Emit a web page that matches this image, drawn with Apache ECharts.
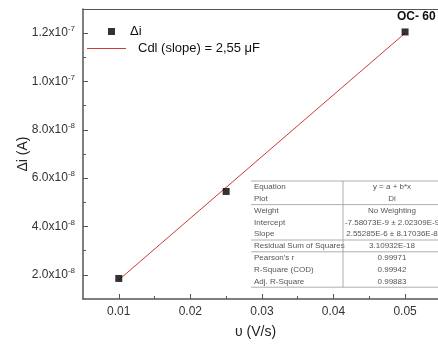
<!DOCTYPE html>
<html>
<head>
<meta charset="utf-8">
<script src="https://cdn.jsdelivr.net/npm/echarts@6/dist/echarts.min.js"></script>
<style>html,body{margin:0;padding:0;background:#fff}#c{width:438px;height:347px}</style>
</head>
<body>
<div id="c"></div>
<script>
// ---- data ----
const scanRates = [0.01, 0.025, 0.05];
const deltaI = [1.85e-8, 5.45e-8, 1.205e-7];
const fitX = [0.01, 0.05];
const fitY = [1.79e-8, 1.2e-7];
const xTickValues = [0.01, 0.02, 0.03, 0.04, 0.05];
const xMinorValues = [0.015, 0.025, 0.035, 0.045];
const yTickValues = [2e-8, 4e-8, 6e-8, 8e-8, 1e-7, 1.2e-7];
const yTickMantissa = ['2.0', '4.0', '6.0', '8.0', '1.0', '1.2'];
const yTickExponent = ['-8', '-8', '-8', '-8', '-7', '-7'];
const yMinorValues = [3e-8, 5e-8, 7e-8, 9e-8, 1.1e-7];
const tableLabels = ['Equation', 'Plot', 'Weight', 'Intercept', 'Slope', 'Residual Sum of Squares', "Pearson's r", 'R-Square (COD)', 'Adj. R-Square'];
const tableValues = ['y = a + b*x', 'Di', 'No Weighting', '-7.58073E-9 \u00b1 2.02309E-9', '2.55285E-6 \u00b1 8.17036E-8', '3.10932E-18', '0.99971', '0.99942', '0.99883'];
const seriesNames = ['\u0394i', 'Cdl (slope) = 2,55 \u03bcF'];
const annotation = 'OC- 60';

// ---- chart ----
const chart = echarts.init(document.getElementById('c'), null, {renderer: 'canvas'});
const axisColor = '#555';
const font = 'Liberation Sans, Arial, sans-serif';
const X_MIN = 0.005, X_MAX = 0.0546, Y_MIN = 1e-8, Y_MAX = 1.3e-7;

function yLabel(v) {
  for (let i = 0; i < yTickValues.length; i++) {
    if (Math.abs(yTickValues[i] - v) < 1e-12) return yTickMantissa[i] + 'x10{sup|' + yTickExponent[i] + '}';
  }
  return '';
}

// table graphic
const rowH = 11.8, tX = 251, tY = 181, colX = 343, tR = 445;
const g = [];
tableLabels.forEach((lab, i) => {
  const y = tY + i * rowH + rowH / 2;
  g.push({type: 'text', x: tX + 3, y: y, style: {text: lab, fontSize: 8, fill: '#555', fontFamily: font, verticalAlign: 'middle'}, z: 20});
  g.push({type: 'text', x: (colX + 441) / 2, y: y, style: {text: tableValues[i], fontSize: 8, fill: '#555', fontFamily: font, align: 'center', verticalAlign: 'middle'}, z: 20});
});
g.push({type: 'rect', shape: {x: tX, y: tY, width: tR - tX, height: rowH * tableLabels.length}, style: {fill: '#fff', stroke: null}, z: 10});
[0, 2, 5, 6, 9].forEach(k => {
  g.push({type: 'line', shape: {x1: tX, y1: tY + k * rowH, x2: tR, y2: tY + k * rowH}, style: {stroke: '#999', lineWidth: 0.8}, z: 21});
});
g.push({type: 'line', shape: {x1: colX, y1: tY, x2: colX, y2: tY + rowH * tableLabels.length}, style: {stroke: '#999', lineWidth: 0.8}, z: 21});

const option = {
  backgroundColor: '#fff',
  animation: false,
  textStyle: {fontFamily: font},
  title: {text: annotation, left: 397, top: 11, padding: 0, textStyle: {fontSize: 12, fontWeight: 'bold', color: '#111', fontFamily: font}},
  grid: {left: 83, top: 9, right: 0, bottom: 48, show: false},
  legend: [
    {data: [{name: seriesNames[0], icon: 'rect'}], left: 108, top: 25, itemWidth: 7, itemHeight: 7, padding: 0,
     textStyle: {fontSize: 13, color: '#111', fontFamily: font, padding: [0, 0, 0, 10]}},
    {data: [{name: seriesNames[1], icon: 'rect'}], left: 87, top: 42, itemWidth: 39, itemHeight: 1.2, padding: 0,
     itemStyle: {color: '#cc3a3a'},
     textStyle: {fontSize: 13, color: '#111', fontFamily: font, padding: [0, 0, 0, 7]}}
  ],
  xAxis: [
    {type: 'value', min: X_MIN, max: X_MAX,
     name: '\u03c5 (V/s)', nameLocation: 'middle', nameGap: 26, nameMoveOverlap: false,
     nameTextStyle: {fontSize: 14, color: '#222', fontFamily: font, padding: [0, 10, 0, 0]},
     axisLine: {lineStyle: {color: axisColor, width: 1.5}},
     axisTick: {inside: true, length: 5, customValues: xTickValues, lineStyle: {color: axisColor}},
     axisLabel: {customValues: xTickValues, fontSize: 12, color: '#333', margin: 7, formatter: v => v.toFixed(2)},
     splitLine: {show: false}},
    {type: 'value', min: X_MIN, max: X_MAX, position: 'bottom', gridIndex: 0,
     axisLine: {show: false}, axisLabel: {show: false}, splitLine: {show: false},
     axisTick: {inside: true, length: 3, customValues: xMinorValues, lineStyle: {color: axisColor}}},
    {type: 'value', min: X_MIN, max: X_MAX, position: 'top', gridIndex: 0,
     axisLine: {show: true, onZero: false, lineStyle: {color: axisColor, width: 1.2}},
     axisLabel: {show: false}, axisTick: {show: false}, splitLine: {show: false}}
  ],
  yAxis: [
    {type: 'value', min: Y_MIN, max: Y_MAX,
     name: '\u0394i (A)', nameLocation: 'middle', nameGap: 53, nameRotate: 90, nameMoveOverlap: false,
     nameTextStyle: {fontSize: 14, color: '#222', fontFamily: font},
     axisLine: {lineStyle: {color: axisColor, width: 1.5}},
     axisTick: {inside: true, length: 5, customValues: yTickValues, lineStyle: {color: axisColor}},
     axisLabel: {customValues: yTickValues, fontSize: 12, color: '#333', margin: 8, formatter: yLabel,
       rich: {sup: {fontSize: 8, color: '#333', verticalAlign: 'bottom', padding: [0, 0, 8, 0]}}},
     splitLine: {show: false}},
    {type: 'value', min: Y_MIN, max: Y_MAX, position: 'left',
     axisLine: {show: false}, axisLabel: {show: false}, splitLine: {show: false},
     axisTick: {inside: true, length: 3, customValues: yMinorValues, lineStyle: {color: axisColor}}}
  ],
  series: [
    {name: seriesNames[0], type: 'scatter', symbol: 'rect', symbolSize: 7, itemStyle: {color: '#000'},
     data: scanRates.map((x, i) => [x, deltaI[i]]), z: 5},
    {name: seriesNames[1], type: 'line', showSymbol: false, lineStyle: {color: '#cc3a3a', width: 1},
     itemStyle: {color: '#cc3a3a'}, data: fitX.map((x, i) => [x, fitY[i]]), z: 4}
  ],
  graphic: g
};
chart.setOption(option);
</script>
</body>
</html>
